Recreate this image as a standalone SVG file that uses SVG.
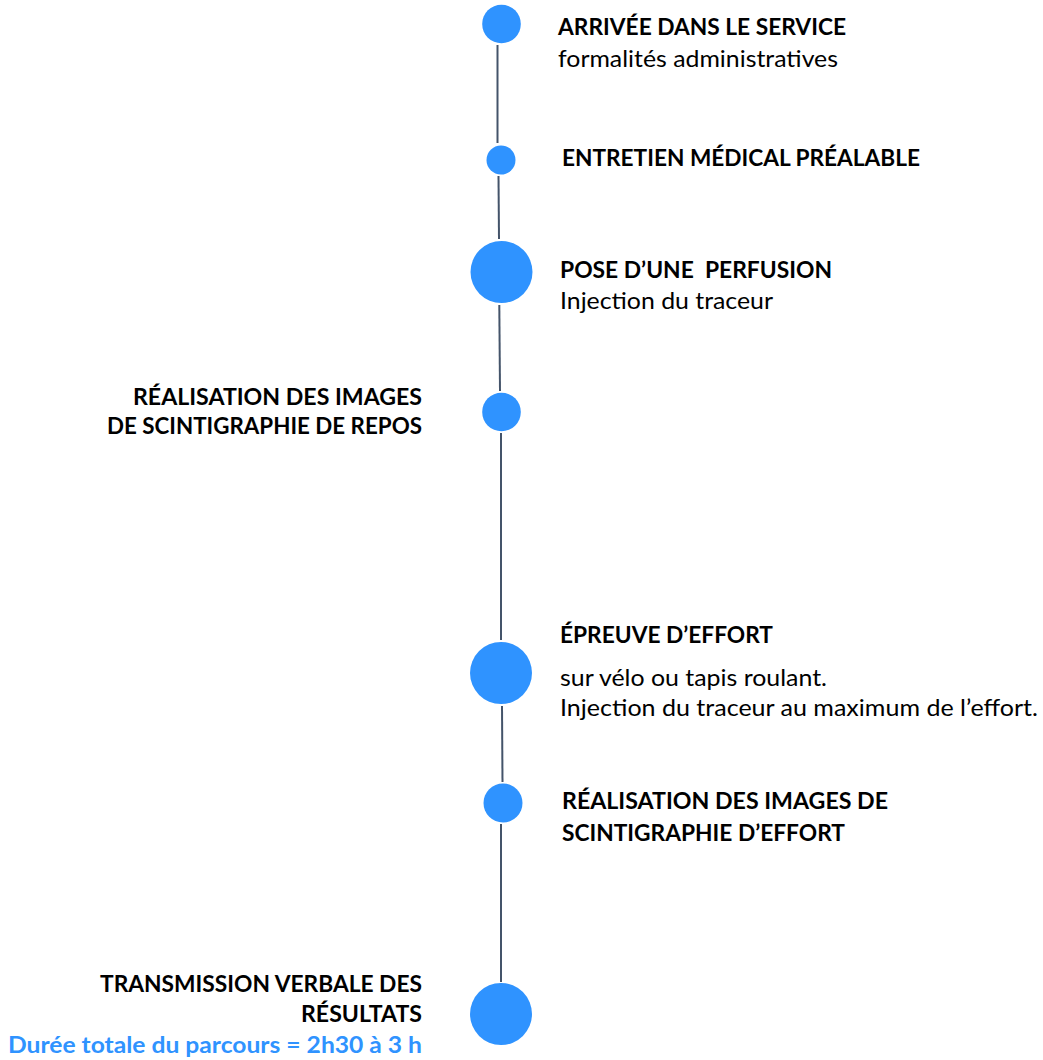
<svg xmlns="http://www.w3.org/2000/svg" width="1043" height="1060" viewBox="0 0 1043 1060">
<style>
.dot{fill:#2F93FF;}
.conn{stroke:#44546A;stroke-width:2;fill:none;}
.t{font-family:Lato,"Open Sans","Liberation Sans",sans-serif;font-weight:700;font-size:22px;fill:#000;}
.r{font-family:Lato,"Open Sans","Liberation Sans",sans-serif;font-weight:400;font-size:23px;fill:#000;}
.b{font-family:Lato,"Open Sans","Liberation Sans",sans-serif;font-weight:700;font-size:22px;fill:#2F93FF;}
</style>
<rect width="1043" height="1060" fill="#fff"/>
<g id="connectors">
<line class="conn" x1="497.5" y1="45" x2="497.5" y2="143"/>
<line class="conn" x1="498.5" y1="176" x2="499" y2="239"/>
<line class="conn" x1="499.3" y1="305" x2="500" y2="391"/>
<line class="conn" x1="501" y1="433" x2="501" y2="640"/>
<line class="conn" x1="502" y1="706" x2="502.5" y2="782"/>
<line class="conn" x1="501" y1="824" x2="501" y2="982"/>
</g>
<g id="n1">
<circle class="dot" cx="501.5" cy="24" r="19.3"/>
<text class="t" x="558" y="35" textLength="288" lengthAdjust="spacingAndGlyphs">ARRIVÉE DANS LE SERVICE</text>
<text class="r" x="558" y="67" textLength="280" lengthAdjust="spacingAndGlyphs">formalités administratives</text>
</g>
<g id="n2">
<circle class="dot" cx="501" cy="160" r="14.5"/>
<text class="t" x="562" y="166" textLength="358" lengthAdjust="spacingAndGlyphs">ENTRETIEN MÉDICAL PRÉALABLE</text>
</g>
<g id="n3">
<circle class="dot" cx="501.5" cy="272" r="31"/>
<text class="t" x="560" y="278" textLength="272" lengthAdjust="spacingAndGlyphs" style="white-space:pre">POSE D’UNE  PERFUSION</text>
<text class="r" x="560" y="309" textLength="213" lengthAdjust="spacingAndGlyphs">Injection du traceur</text>
</g>
<g id="n4">
<circle class="dot" cx="501.5" cy="412" r="19.3"/>
<text class="t" x="133" y="405" textLength="289" lengthAdjust="spacingAndGlyphs">RÉALISATION DES IMAGES</text>
<text class="t" x="107" y="434" textLength="315" lengthAdjust="spacingAndGlyphs">DE SCINTIGRAPHIE DE REPOS</text>
</g>
<g id="n5">
<circle class="dot" cx="501" cy="673" r="31"/>
<text class="t" x="560" y="643" textLength="213" lengthAdjust="spacingAndGlyphs">ÉPREUVE D’EFFORT</text>
<text class="r" x="560" y="686" textLength="267" lengthAdjust="spacingAndGlyphs">sur vélo ou tapis roulant.</text>
<text class="r" x="560" y="716" textLength="478" lengthAdjust="spacingAndGlyphs">Injection du traceur au maximum de l’effort.</text>
</g>
<g id="n6">
<circle class="dot" cx="503" cy="803" r="19.5"/>
<text class="t" x="562" y="809" textLength="326" lengthAdjust="spacingAndGlyphs">RÉALISATION DES IMAGES DE</text>
<text class="t" x="562" y="841" textLength="283" lengthAdjust="spacingAndGlyphs">SCINTIGRAPHIE D’EFFORT</text>
</g>
<g id="n7">
<circle class="dot" cx="501" cy="1014" r="31"/>
<text class="t" x="100" y="992" textLength="322" lengthAdjust="spacingAndGlyphs">TRANSMISSION VERBALE DES</text>
<text class="t" x="301" y="1022" textLength="121" lengthAdjust="spacingAndGlyphs">RÉSULTATS</text>
<text class="b" x="8" y="1053" textLength="414" lengthAdjust="spacingAndGlyphs">Durée totale du parcours = 2h30 à 3 h</text>
</g>
</svg>
